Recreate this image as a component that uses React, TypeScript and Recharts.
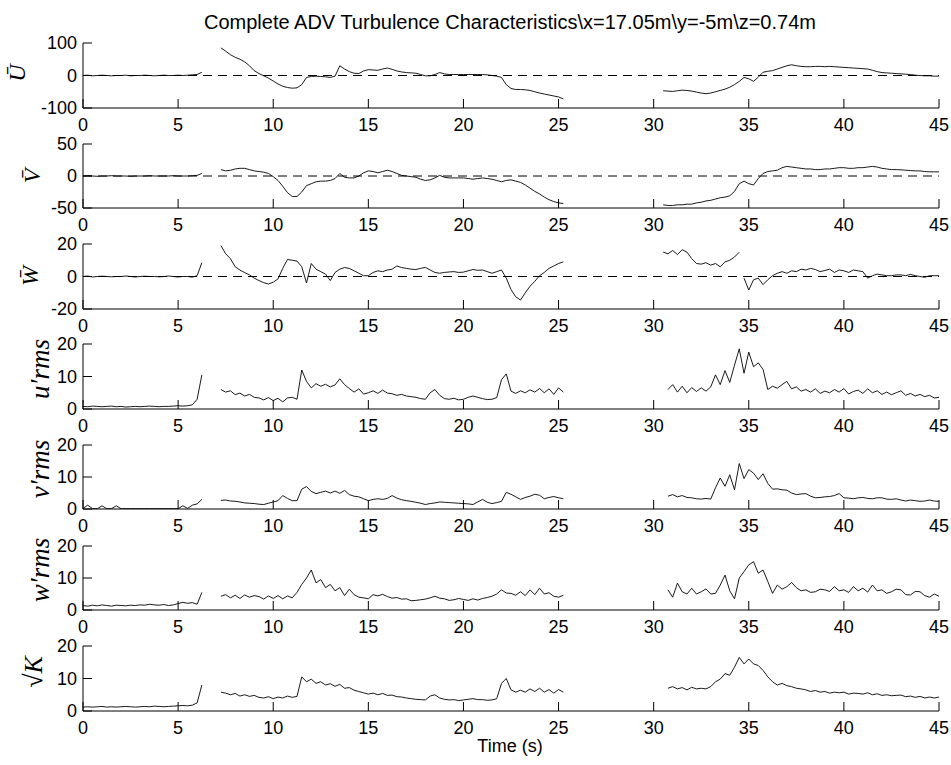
import React from 'react';
import { LineChart, Line, XAxis, YAxis, ReferenceLine } from 'recharts';

// time axis
const timeTicks = [0, 5, 10, 15, 20, 25, 30, 35, 40, 45];
const step = 0.25; // s between samples

// mean U (0..6.25 / 7.25..25.25 / 30.5..45)
const uSeg1 = [0, 1, -1, 0, 1, 0, -1, 0, 0, 1, -1, 0, 0, 1, 0, -1, 0, 1, 0, 0, 1, 0, 1, 2, 3, 10];
const uSeg2 = [
  85, 75, 64, 56, 50, 42, 30, 15,
  6, -1, -8, -17, -26, -33, -37, -39,
  -38, -28, -6, -3, -2, -3, -4, -6,
  -2, 30, 20, 12, 7, 6, 14, 18,
  17, 16, 20, 23, 19, 14, 11, 9,
  8, 7, 3, -1, -1, 3, 9, 5,
  3, 3, 3, 3, 3, 3, 3, 3,
  2, 0, -2, -6, -28, -40, -43, -43,
  -44, -46, -50, -54, -57, -60, -63, -66,
  -72,
];
const uSeg3 = [
  -47, -48, -49, -47, -45, -46, -48, -51,
  -54, -56, -54, -50, -46, -42, -36, -28,
  -18, -6, -10, -18, -5, 10, 13, 15,
  20, 25, 30, 33, 30, 28, 27, 27,
  28, 28, 27, 28, 27, 26, 25, 24,
  23, 22, 21, 20, 16, 12, 9, 8,
  7, 6, 5, 4, 3, 1, 0, -1,
  -1, -2, -2,
];

// mean V
const vSeg1 = [0, 0.5, 0, -0.5, 0, 0, 0.5, 0, 0, 0, -0.5, 0, 0, 0, 0.5, 0, 0, 0, 0, 0.5, 0, 0, 0, 0.5, 1, 4];
const vSeg2 = [
  10, 8, 9, 11, 12, 12, 10, 8,
  7, 6, 4, -1, -7, -16, -26, -32,
  -32, -25, -15, -12, -9, -8, -8, -7,
  -4, 4, -2, -3, -3, 0, 5, 8,
  7, 5, 7, 9, 7, 4, 1, 0,
  -1, -2, -5, -7, -6, -3, 1, -2,
  -3, -3, -3, -3, -4, -5, -4, -3,
  -4, -5, -7, -9, -7, -6, -8, -10,
  -14, -19, -24, -28, -33, -37, -40, -42,
  -43,
];
const vSeg3 = [
  -45, -46, -46, -45, -45, -44, -44, -42,
  -41, -39, -38, -36, -34, -33, -31, -24,
  -12, -8, -12, -14, -4, 4, 7, 8,
  9, 13, 15, 14, 13, 12, 11, 11,
  10, 10, 11, 11, 12, 13, 13, 12,
  12, 13, 13, 14, 15, 14, 12, 11,
  10, 10, 9.6, 9, 8.5, 8, 8, 7,
  6.5, 6.5, 6.5,
];

// mean W
const wSeg1 = [0, 0.3, -0.3, 0, 0.2, 0, -0.2, 0, 0, 0.3, 0, -0.3, 0, 0.2, 0, 0, -0.2, 0, 0.3, 0, -0.3, 0, 0, -0.4, 0.5, 8.5];
const wSeg2 = [
  19, 14, 11, 6, 4, 2.4, 1, -1,
  -2.5, -3.8, -4.6, -3.5, -1.5, 5, 10.5, 10,
  9.5, 6, -4, 8, 4.5, 3, 1.5, -2.5,
  2.5, 4.5, 5.5, 5, 3.5, 2, 0.5, 0.5,
  2.5, 3.5, 3, 4, 4.5, 6.5, 5.5, 5,
  4.5, 4.3, 5, 5.6, 4, 2.5, 2, 2.5,
  2.8, 3, 2.5, 2.7, 3.5, 4.3, 3.8, 4,
  3, 2, 3, 4, -1, -8, -12.5, -14.5,
  -10, -6, -3, 0.5, 2.5, 5, 6.5, 8,
  9,
];
const wSeg3 = [
  15, 14, 16, 13.5, 16.5, 15, 11, 8,
  7.6, 8.5, 7, 8, 6, 9, 10, 12,
  15,
];
const wSeg4 = [
  -1, -8.3, -2, -1, -5, -2, 0.5, 2,
  3, 2, 3.5, 3, 4.5, 4, 5, 4.3,
  3, 3.7, 4.5, 2.5, 4, 3.5, 2.5, 4,
  3.5, 3, -1, 0.5, 1.5, 1, 0.5, 0.5,
  1, 1, 0.5, 1.3, 0.5, 0, -0.5, 0.5,
  0.5, 0.5,
];

// u'rms
const urSeg1 = [0.8, 0.7, 0.9, 0.8, 0.7, 0.8, 0.9, 0.7, 0.8, 0.6, 0.7, 0.8, 0.7, 0.8, 0.9, 0.8, 0.7, 0.8, 0.8, 0.9, 1.0, 0.9, 1.0, 1.3, 3.0, 10.5];
const urSeg2 = [
  6.0, 5.2, 5.6, 4.4, 4.9, 4.0, 4.5, 3.6,
  3.4, 2.8, 3.5, 2.6, 3.3, 2.2, 3.4, 3.6,
  3.0, 12.0, 8.5, 6.5, 7.8, 7.0, 7.6, 6.8,
  7.4, 9.3, 7.5, 6.3, 5.2, 6.2, 4.6, 5.0,
  5.6, 4.8, 5.8, 4.9, 4.7, 4.2, 4.5, 4.0,
  3.8, 3.6, 3.2, 3.0, 5.0, 6.0, 4.2, 3.2,
  3.0, 3.3, 2.8, 3.0, 3.6, 4.0, 3.6, 3.2,
  2.9, 3.0, 3.5, 9.0, 10.8, 5.5, 4.8, 5.6,
  5.0, 5.9, 5.2, 6.3, 5.0, 6.2, 4.5, 6.5,
  5.2,
];
const urSeg3 = [
  6.0, 7.5, 5.2, 7.0, 5.0, 6.6, 5.4, 6.5,
  5.5, 6.8, 10.5, 7.5, 11.8, 8.2, 13.5, 18.5,
  11.0, 17.5, 13.0, 14.2, 12.2, 6.0, 7.0, 6.4,
  7.5, 8.5, 6.2, 6.8, 5.5, 6.0, 5.2, 6.2,
  4.8, 5.5, 5.0, 6.0, 5.2, 6.3, 4.6, 5.4,
  5.8, 4.8, 6.2, 5.0, 5.6, 4.5, 5.2, 4.4,
  5.0, 5.6, 4.2, 4.8, 4.0, 4.5, 3.8, 4.2,
  3.4, 3.6,
];

// v'rms
const vrSeg1 = [0.2, 1.2, 0.1, 0.1, 1.0, 0.1, 0.1, 1.0, 0.1, 0.1, 0.1, 0.1, 0.1, 0.1, 0.1, 0.1, 0.1, 0.1, 0.1, 0.1, 0.1, 1.0, 0.2, 1.2, 1.6, 3.0];
const vrSeg2 = [
  2.7, 2.8, 2.5, 2.4, 2.2, 1.9, 1.8, 1.7,
  1.5, 1.4, 1.8, 2.2, 2.6, 4.2, 3.3, 2.6,
  2.6, 6.2, 7.0, 5.5, 4.8, 5.2, 5.6, 5.0,
  5.6, 4.9, 5.8, 4.5, 4.0, 3.8, 3.2, 2.6,
  3.0, 3.2, 3.0, 3.3, 4.2, 3.4, 2.9, 2.6,
  2.4, 2.1, 1.8, 1.4, 1.7, 1.9, 2.2, 2.1,
  2.0, 1.9, 1.8, 1.7, 1.6, 1.4, 2.2, 3.0,
  2.1, 1.7, 2.0, 2.4, 5.2, 4.6, 3.8, 3.0,
  3.6, 4.0, 4.6, 4.3, 3.2, 3.6, 3.9, 3.5,
  3.2,
];
const vrSeg3 = [
  4.0, 4.5, 3.8, 4.2, 3.6, 3.5, 3.2, 3.1,
  3.3, 3.1, 6.6, 9.7, 7.1, 10.7, 6.0, 14.2,
  9.5, 12.3, 11.2, 9.2, 11.0, 8.0, 6.2, 6.3,
  6.0, 5.9, 5.0, 4.5, 4.7, 4.8, 4.0, 3.5,
  3.6, 3.8, 3.9, 4.2, 4.8, 3.5, 3.4, 3.2,
  3.5, 3.6, 3.3, 3.2, 3.5, 3.5, 3.1, 3.0,
  3.2, 2.8, 2.5, 2.8, 2.6, 2.4, 2.5, 2.8,
  2.5, 2.4,
];

// w'rms
const wrSeg1 = [1.4, 1.2, 1.5, 1.3, 1.6, 1.4, 1.2, 1.5, 1.4, 1.3, 1.5, 1.4, 1.6, 1.5, 1.8, 1.6, 1.5, 1.7, 1.4, 1.6, 2.0, 2.4, 2.1, 2.3, 1.8, 5.5];
const wrSeg2 = [
  4.3, 4.8, 3.8, 4.6, 3.6, 4.7, 4.0, 4.5,
  4.2, 3.4, 4.4, 3.6, 4.5, 3.5, 4.4, 3.8,
  5.5, 8.0, 10.0, 12.5, 8.5, 9.5, 7.0, 8.0,
  6.0, 7.0, 4.5, 6.5, 4.8, 4.0, 3.8, 3.5,
  4.8, 4.4, 4.9, 4.2, 3.7, 3.9, 3.4, 3.5,
  2.9, 3.0, 3.2, 3.4, 3.8, 4.3, 3.7, 3.5,
  3.0, 3.2, 3.6, 3.3, 3.0, 3.5, 3.1, 3.6,
  3.9, 4.3, 5.0, 6.3, 5.3, 5.2, 4.6, 5.7,
  4.5, 6.3, 4.8, 6.8, 5.0, 5.4, 4.3, 4.0,
  4.6,
];
const wrSeg3 = [
  6.3, 4.0, 8.4, 5.7, 5.0, 6.8, 5.0, 5.7,
  6.6, 5.0, 5.2, 7.8, 10.9, 6.0, 3.5, 10.0,
  12.0, 14.1, 15.1, 11.5, 12.5, 8.9, 5.2, 7.8,
  6.5, 7.3, 8.6, 7.0, 6.0, 6.3, 5.5, 5.7,
  6.5, 6.3, 5.8, 7.3, 6.0, 6.3, 5.5, 7.3,
  6.0, 6.8, 5.6, 7.8, 6.0, 6.3, 5.2, 5.7,
  6.5, 6.3, 4.8, 4.7, 5.8, 5.7, 4.5, 4.0,
  5.0, 4.3,
];

// sqrt(K)
const kSeg1 = [1.2, 1.3, 1.2, 1.3, 1.4, 1.2, 1.3, 1.2, 1.3, 1.4, 1.3, 1.2, 1.3, 1.4, 1.3, 1.5, 1.4, 1.3, 1.4, 1.5, 1.6, 1.7, 1.6, 1.8, 2.5, 8.0];
const kSeg2 = [
  5.8, 5.5, 5.0, 5.4, 4.6, 5.0, 4.5, 4.8,
  4.2, 4.0, 4.4, 3.8, 4.3, 4.0, 4.6, 4.2,
  4.5, 10.5, 9.0, 9.8, 8.5, 9.0, 8.0, 8.4,
  7.6, 8.2, 7.0, 7.2, 6.4, 6.0, 5.6, 5.2,
  5.5, 5.0, 5.4, 4.8, 4.9, 4.4, 4.3, 4.0,
  3.8, 3.6, 3.5, 3.4, 4.6, 5.0, 4.0, 3.6,
  3.4, 3.5, 3.2, 3.4, 3.6, 3.8, 3.5, 3.5,
  3.3, 3.4, 3.8, 8.5, 10.0, 6.5, 5.8, 6.4,
  5.8, 6.8, 6.0, 7.0, 5.8, 6.6, 5.5, 6.6,
  5.8,
];
const kSeg3 = [
  7.0, 7.5, 6.8, 7.2, 6.5, 7.3, 6.8, 7.0,
  6.8, 7.5, 9.0, 9.8, 11.5, 11.0, 13.5, 16.5,
  14.5, 16.0, 14.5, 14.0, 12.5, 10.5, 9.0, 8.0,
  8.5, 7.8, 7.5, 7.0, 6.8, 6.5, 6.0, 6.3,
  5.8, 6.0, 5.5, 5.8, 5.6, 5.8, 5.2, 5.5,
  5.4, 5.2, 5.6, 5.0, 5.3, 4.8, 5.0, 4.7,
  4.8, 4.9, 4.4, 4.6, 4.2, 4.5, 4.0, 4.3,
  4.0, 4.3,
];

type Seg = { start: number; values: number[] };
type Panel = {
  key: string;
  ticks: number[];
  segs: Seg[];
  zeroLine: boolean;
  top: number;
  height: number;
};

const panels: Panel[] = [
  { key: 'U', ticks: [-100, 0, 100], zeroLine: true, top: 43, height: 65,
    segs: [{ start: 0, values: uSeg1 }, { start: 7.25, values: uSeg2 }, { start: 30.5, values: uSeg3 }] },
  { key: 'V', ticks: [-50, 0, 50], zeroLine: true, top: 144, height: 64,
    segs: [{ start: 0, values: vSeg1 }, { start: 7.25, values: vSeg2 }, { start: 30.5, values: vSeg3 }] },
  { key: 'W', ticks: [-20, 0, 20], zeroLine: true, top: 244, height: 65,
    segs: [{ start: 0, values: wSeg1 }, { start: 7.25, values: wSeg2 }, { start: 30.5, values: wSeg3 }, { start: 34.75, values: wSeg4 }] },
  { key: 'ur', ticks: [0, 10, 20], zeroLine: false, top: 344, height: 65,
    segs: [{ start: 0, values: urSeg1 }, { start: 7.25, values: urSeg2 }, { start: 30.75, values: urSeg3 }] },
  { key: 'vr', ticks: [0, 10, 20], zeroLine: false, top: 445, height: 64,
    segs: [{ start: 0, values: vrSeg1 }, { start: 7.25, values: vrSeg2 }, { start: 30.75, values: vrSeg3 }] },
  { key: 'wr', ticks: [0, 10, 20], zeroLine: false, top: 546, height: 64,
    segs: [{ start: 0, values: wrSeg1 }, { start: 7.25, values: wrSeg2 }, { start: 30.75, values: wrSeg3 }] },
  { key: 'k', ticks: [0, 10, 20], zeroLine: false, top: 646, height: 65,
    segs: [{ start: 0, values: kSeg1 }, { start: 7.25, values: kSeg2 }, { start: 30.75, values: kSeg3 }] },
];

const toPoints = (s: Seg) => s.values.map((v, i) => ({ t: s.start + i * step, v }));

const W = 951;
const PAD_TOP = 14;
const AXIS_FONT = { fontSize: 18, fill: '#000' };

function SubPlot({ p }: { p: Panel }) {
  const lo = p.ticks[0];
  const hi = p.ticks[p.ticks.length - 1];
  const h = PAD_TOP + p.height + 30;
  return (
    <div style={{ position: 'absolute', left: 0, top: p.top - PAD_TOP }}>
      <LineChart width={W} height={h} margin={{ top: PAD_TOP, right: 12, bottom: 5, left: 33 }}>
        <XAxis
          dataKey="t" type="number" domain={[0, 45]} ticks={timeTicks} interval={0}
          height={25} tickSize={-9} tickMargin={19} tick={AXIS_FONT}
          stroke="#000" allowDataOverflow
        />
        <XAxis
          xAxisId="top" orientation="top" dataKey="t" type="number" domain={[0, 45]}
          ticks={timeTicks} interval={0} height={0} tickSize={-9} tick={false}
          stroke="#000" allowDataOverflow
        />
        <YAxis
          type="number" domain={[lo, hi]} ticks={p.ticks} interval={0} width={50}
          tickSize={-9} tickMargin={15} tick={AXIS_FONT} stroke="#000" allowDataOverflow
        />
        <YAxis
          yAxisId="right" orientation="right" type="number" domain={[lo, hi]} ticks={p.ticks}
          interval={0} width={0} tickSize={-9} tick={false} stroke="#000" allowDataOverflow
        />
        {p.zeroLine && <ReferenceLine y={0} stroke="#000" strokeDasharray="9 6" />}
        {p.segs.map((s, i) => (
          <Line
            key={`${p.key}-${i}`} data={toPoints(s)} dataKey="v" stroke="#000" strokeWidth={0.9}
            dot={false} isAnimationActive={false}
          />
        ))}
      </LineChart>
    </div>
  );
}

const serif = { fontFamily: '"Liberation Serif", "Times New Roman", serif', fontStyle: 'italic' as const };

export default function App() {
  return (
    <div style={{ position: 'absolute', left: 0, top: 0, width: W, height: 765, background: '#fff',
      fontFamily: '"Liberation Sans", Arial, sans-serif' }}>
      {panels.map(p => <SubPlot key={p.key} p={p} />)}
      <svg width={W} height={765} style={{ position: 'absolute', left: 0, top: 0, pointerEvents: 'none' }}>
        <text x={510} y={29} textAnchor="middle" fontSize={20} fill="#000">
          {'Complete ADV Turbulence Characteristics\\x=17.05m\\y=-5m\\z=0.74m'}
        </text>
        <text x={510} y={752} textAnchor="middle" fontSize={18} fill="#000">Time (s)</text>
        <g style={serif} fill="#000">
          <text transform="translate(25,73) rotate(-90)" textAnchor="middle" fontSize={24}>{'U\u0304'}</text>
          <text transform="translate(40,176) rotate(-90)" textAnchor="middle" fontSize={24}>{'V\u0304'}</text>
          <text transform="translate(38,276) rotate(-90)" textAnchor="middle" fontSize={24}>{'W\u0304'}</text>
          <text transform="translate(49,369) rotate(-90)" textAnchor="middle" fontSize={27}>{'u\u2032rms'}</text>
          <text transform="translate(49,469) rotate(-90)" textAnchor="middle" fontSize={27}>{'v\u2032rms'}</text>
          <text transform="translate(49,570) rotate(-90)" textAnchor="middle" fontSize={27}>{'w\u2032rms'}</text>
          <text transform="translate(42,672) rotate(-90)" textAnchor="middle" fontSize={26}>{'\u221AK'}</text>
        </g>
      </svg>
    </div>
  );
}
